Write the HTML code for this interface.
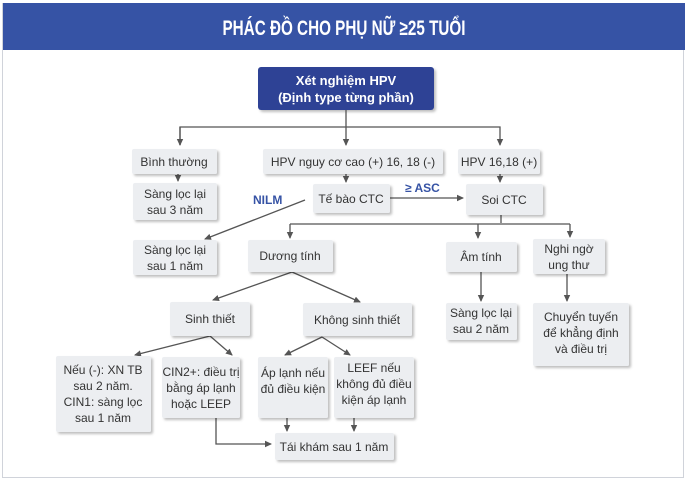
<!DOCTYPE html>
<html><head><meta charset="utf-8"><style>
html,body{margin:0;padding:0;background:#fff}
svg{display:block}
text{font-family:"Liberation Sans",sans-serif;font-size:12px;fill:#333}
.b{fill:#eceef1;filter:url(#sh)}
.l{stroke:#555;stroke-width:1.3;fill:none}
</style></head><body>
<svg width="688" height="481" viewBox="0 0 688 481" xmlns="http://www.w3.org/2000/svg">
<defs>
<filter id="sh" x="-20%" y="-20%" width="150%" height="150%"><feDropShadow dx="2" dy="2" stdDeviation="1.2" flood-color="#000" flood-opacity="0.25"/></filter>
<marker id="a" markerWidth="8" markerHeight="8" refX="6" refY="4" orient="auto" markerUnits="userSpaceOnUse"><path d="M0,0.8 L7,4 L0,7.2 z" fill="#555"/></marker>
</defs>
<rect x="2.5" y="3.5" width="681" height="474" fill="#fff" stroke="#d0d3da"/>
<rect x="3" y="3" width="682" height="47" fill="#3653a5"/>
<text x="344" y="35" text-anchor="middle" style="font-size:21px;font-weight:bold;fill:#fff" textLength="243" lengthAdjust="spacingAndGlyphs">PHÁC ĐỒ CHO PHỤ NỮ ≥25 TUỔI</text>

<rect x="258" y="67" width="176" height="43" rx="3" fill="#2f4395" filter="url(#sh)"/>
<text x="346" y="85" text-anchor="middle" style="fill:#fff;font-weight:bold;font-size:13px">Xét nghiệm HPV</text>
<text x="346" y="102" text-anchor="middle" style="fill:#fff;font-weight:bold;font-size:13px">(Định type từng phần)</text>

<path class="l" d="M346,110 V145" marker-end="url(#a)"/>
<path class="l" d="M180,145 V127 H500 V145" marker-end="url(#a)"/>
<path class="l" d="M180,127 V145" marker-end="url(#a)"/>
<path class="l" d="M178,174 V181" marker-end="url(#a)"/>
<path class="l" d="M346,174 V182" marker-end="url(#a)"/>
<path class="l" d="M500,174 V182" marker-end="url(#a)"/>
<path class="l" d="M390,198 H463" marker-end="url(#a)"/>
<path class="l" d="M305,200 L205,239" marker-end="url(#a)"/>
<path class="l" d="M501,215 V223"/>
<path class="l" d="M290,224 H570"/>
<path class="l" d="M290,224 V238" marker-end="url(#a)"/>
<path class="l" d="M478,224 V238" marker-end="url(#a)"/>
<path class="l" d="M570,224 V237" marker-end="url(#a)"/>
<path class="l" d="M292,272 L213,300" marker-end="url(#a)"/>
<path class="l" d="M292,272 L360,302" marker-end="url(#a)"/>
<path class="l" d="M481,272 V301" marker-end="url(#a)"/>
<path class="l" d="M567,274 V301" marker-end="url(#a)"/>
<path class="l" d="M210,336 L135,355" marker-end="url(#a)"/>
<path class="l" d="M210,336 L232,355" marker-end="url(#a)"/>
<path class="l" d="M322,337 L285,355" marker-end="url(#a)"/>
<path class="l" d="M322,337 L350,355" marker-end="url(#a)"/>
<path class="l" d="M287,418 V431" marker-end="url(#a)"/>
<path class="l" d="M354,418 V431" marker-end="url(#a)"/>
<path class="l" d="M216,418 V444 H271" marker-end="url(#a)"/>

<text x="405" y="192" style="fill:#3653a5;font-weight:bold">≥ ASC</text>
<text x="253" y="204" style="fill:#3653a5;font-weight:bold">NILM</text>

<rect class="b" x="132" y="149" width="85" height="25" rx="2"/><text x="174" y="166" text-anchor="middle">Bình thường</text>
<rect class="b" x="263" y="149" width="180" height="25" rx="2"/><text x="353" y="166" text-anchor="middle">HPV nguy cơ cao (+) 16, 18 (-)</text>
<rect class="b" x="458" y="149" width="82" height="25" rx="2"/><text x="499" y="166" text-anchor="middle">HPV 16,18 (+)</text>

<rect class="b" x="133" y="183" width="84" height="37" rx="2"/><text x="175" y="198" text-anchor="middle">Sàng lọc lại</text><text x="175" y="214" text-anchor="middle">sau 3 năm</text>
<rect class="b" x="313" y="184" width="77" height="29" rx="2"/><text x="351" y="203" text-anchor="middle">Tế bào CTC</text>
<rect class="b" x="466" y="184" width="77" height="31" rx="2"/><text x="504" y="204" text-anchor="middle">Soi CTC</text>

<rect class="b" x="133" y="240" width="84" height="35" rx="2"/><text x="175" y="254" text-anchor="middle">Sàng lọc lại</text><text x="175" y="270" text-anchor="middle">sau 1 năm</text>
<rect class="b" x="248" y="240" width="85" height="32" rx="2"/><text x="290" y="260" text-anchor="middle">Dương tính</text>
<rect class="b" x="446" y="242" width="71" height="30" rx="2"/><text x="481" y="261" text-anchor="middle">Âm tính</text>
<rect class="b" x="533" y="239" width="72" height="35" rx="2"/><text x="569" y="253" text-anchor="middle">Nghi ngờ</text><text x="569" y="269" text-anchor="middle">ung thư</text>

<rect class="b" x="170" y="302" width="80" height="34" rx="2"/><text x="210" y="323" text-anchor="middle">Sinh thiết</text>
<rect class="b" x="303" y="303" width="109" height="33" rx="2"/><text x="357" y="324" text-anchor="middle">Không sinh thiết</text>
<rect class="b" x="446" y="303" width="71" height="37" rx="2"/><text x="481" y="317" text-anchor="middle">Sàng lọc lại</text><text x="481" y="333" text-anchor="middle">sau 2 năm</text>
<rect class="b" x="533" y="303" width="96" height="63" rx="2"/><text x="581" y="321" text-anchor="middle">Chuyển tuyến</text><text x="581" y="337" text-anchor="middle">để khẳng định</text><text x="581" y="353" text-anchor="middle">và điều trị</text>

<rect class="b" x="56" y="356" width="95" height="76" rx="2"/>
<text x="103" y="374" text-anchor="middle">Nếu (-): XN TB</text><text x="103" y="390" text-anchor="middle">sau 2 năm.</text><text x="103" y="406" text-anchor="middle">CIN1: sàng lọc</text><text x="103" y="422" text-anchor="middle">sau 1 năm</text>
<rect class="b" x="162" y="357" width="78" height="61" rx="2"/>
<text x="201" y="376" text-anchor="middle">CIN2+:  điều trị</text><text x="201" y="392" text-anchor="middle">bằng áp lạnh</text><text x="201" y="408" text-anchor="middle">hoặc LEEP</text>
<rect class="b" x="258" y="357" width="70" height="61" rx="2"/>
<text x="293" y="377" text-anchor="middle">Áp lạnh nếu</text><text x="293" y="393" text-anchor="middle">đủ điều kiện</text>
<rect class="b" x="334" y="357" width="80" height="61" rx="2"/>
<text x="374" y="372" text-anchor="middle">LEEF nếu</text><text x="374" y="388" text-anchor="middle">không đủ điều</text><text x="374" y="404" text-anchor="middle">kiện áp lạnh</text>

<rect class="b" x="275" y="433" width="119" height="27" rx="2"/><text x="334" y="451" text-anchor="middle">Tái khám sau 1 năm</text>
</svg>
</body></html>
